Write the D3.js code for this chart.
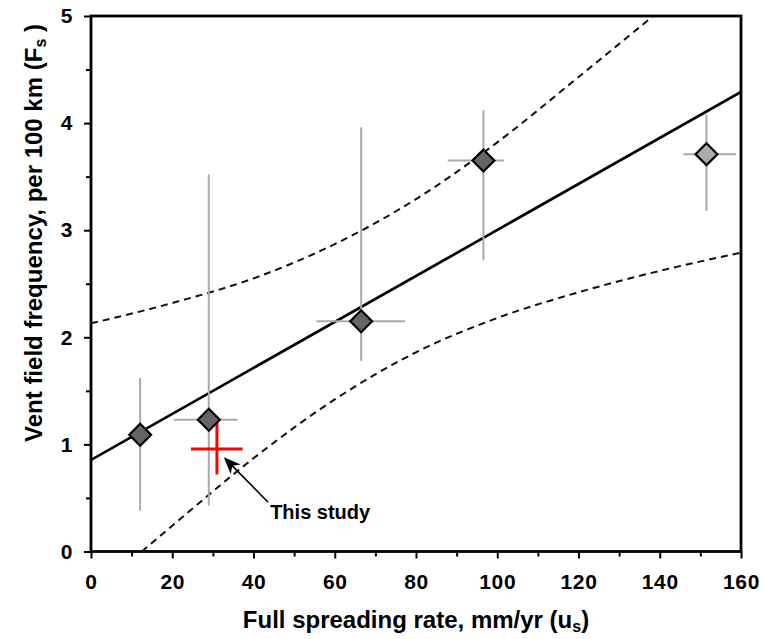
<!DOCTYPE html>
<html><head><meta charset="utf-8">
<script src="https://cdn.jsdelivr.net/npm/d3@7"></script>
<style>
html,body{margin:0;padding:0;background:#fff;}
text{font-family:"Liberation Sans",Arial,Helvetica,sans-serif;font-weight:bold;fill:#000;}
</style></head>
<body><svg id="chart" width="765" height="639"></svg>
<script>
// ---- data ----
const spreadRate = [12.1, 29.0, 66.5, 96.6, 151.5];
const ventFreq   = [1.09, 1.23, 2.15, 3.65, 3.71];
const rateLo     = [null, 20.3, 55.5, 87.8, 145.8];
const rateHi     = [null, 36.1, 77.3, 101.7, 158.8];
const freqLo     = [0.38, 0.43, 1.78, 2.72, 3.18];
const freqHi     = [1.62, 3.52, 3.96, 4.12, 4.08];
const pointGroup = ["A", "A", "A", "A", "B"];

const studyRate = 31.0, studyRateLo = 24.6, studyRateHi = 37.3;
const studyFreq = 0.957, studyFreqLo = 0.72, studyFreqHi = 1.20;

const fitX = [0, 160];
const fitY = [0.855, 4.29];

const bandUpX = [0, 20, 40, 60, 80, 100, 120, 140];
const bandUpY = [2.13, 2.32, 2.55, 2.87, 3.29, 3.82, 4.43, 5.05];
const bandLoX = [12.5, 20, 40, 60, 80, 100, 120, 140, 160];
const bandLoY = [0.0, 0.24, 0.87, 1.42, 1.86, 2.18, 2.42, 2.62, 2.79];

const xTicks = [0, 20, 40, 60, 80, 100, 120, 140, 160];
const xMinor = [10, 30, 50, 70, 90, 110, 130, 150];
const yTicks = [0, 1, 2, 3, 4, 5];
const yMinor = [0.5, 1.5, 2.5, 3.5, 4.5];

const annotText = "This study";
const arrowFrom = [43.6, 0.46];
const arrowTo   = [32.7, 0.88];
const labelPos  = [44.1, 0.30];

// ---- layout ----
const svg = d3.select("#chart");
const x = d3.scaleLinear().domain([0, 160]).range([91, 741]);
const y = d3.scaleLinear().domain([0, 5]).range([551.5, 16]);
const groupFill = {A: "#656565", B: "#ababab"};

svg.append("defs").append("clipPath").attr("id", "clip")
  .append("rect").attr("x", x(0)).attr("y", y(5)).attr("width", x(160) - x(0)).attr("height", y(0) - y(5));

const plot = svg.append("g").attr("clip-path", "url(#clip)");

// error bars
const pts = spreadRate.map((r, i) => ({r, f: ventFreq[i], rl: rateLo[i], rh: rateHi[i], fl: freqLo[i], fh: freqHi[i], g: pointGroup[i]}));
const eb = svg.append("g").attr("stroke", "#aaaaaa").attr("stroke-width", 2);
pts.forEach(p => {
  eb.append("line").attr("x1", x(p.r)).attr("x2", x(p.r)).attr("y1", y(p.fl)).attr("y2", y(p.fh));
  if (p.rl != null) eb.append("line").attr("x1", x(p.rl)).attr("x2", x(p.rh)).attr("y1", y(p.f)).attr("y2", y(p.f));
});

// confidence bands
const band = d3.line().x(d => x(d[0])).y(d => y(d[1])).curve(d3.curveMonotoneX);
plot.append("path").attr("d", band(bandUpX.map((v, i) => [v, bandUpY[i]])))
  .attr("fill", "none").attr("stroke", "#111").attr("stroke-width", 2).attr("stroke-dasharray", "7,5");
plot.append("path").attr("d", band(bandLoX.map((v, i) => [v, bandLoY[i]])))
  .attr("fill", "none").attr("stroke", "#111").attr("stroke-width", 2).attr("stroke-dasharray", "7,5");

// regression line
plot.append("path").attr("d", d3.line().x(d => x(d[0])).y(d => y(d[1]))(fitX.map((v, i) => [v, fitY[i]])))
  .attr("fill", "none").attr("stroke", "#000").attr("stroke-width", 2.7);

// this study cross
const st = svg.append("g").attr("stroke", "#ff0000").attr("stroke-width", 3);
st.append("line").attr("x1", x(studyRateLo)).attr("x2", x(studyRateHi)).attr("y1", y(studyFreq)).attr("y2", y(studyFreq));
st.append("line").attr("x1", x(studyRate)).attr("x2", x(studyRate)).attr("y1", y(studyFreqLo)).attr("y2", y(studyFreqHi));

// diamonds
const diamond = d3.symbol().type(d3.symbolSquare).size(240);
svg.append("g").selectAll("path").data(pts).join("path")
  .attr("d", diamond)
  .attr("transform", d => `translate(${x(d.r)},${y(d.f)}) rotate(45)`)
  .attr("fill", d => groupFill[d.g]).attr("stroke", "#000").attr("stroke-width", 2.2);

// annotation arrow
const ax0 = x(arrowFrom[0]), ay0 = y(arrowFrom[1]), ax1 = x(arrowTo[0]), ay1 = y(arrowTo[1]);
const ang = Math.atan2(ay1 - ay0, ax1 - ax0) * 180 / Math.PI;
const len = Math.hypot(ax1 - ax0, ay1 - ay0);
const ag = svg.append("g").attr("transform", `translate(${ax0},${ay0}) rotate(${ang})`);
ag.append("line").attr("x1", 0).attr("y1", 0).attr("x2", len - 10).attr("y2", 0).attr("stroke", "#000").attr("stroke-width", 1.6);
ag.append("path").attr("d", `M${len},0 L${len - 17},-7 L${len - 12},0 L${len - 17},7 Z`).attr("fill", "#000");
svg.append("text").attr("x", x(labelPos[0])).attr("y", y(labelPos[1])).attr("font-size", 20).text(annotText);

// axes
svg.append("g").attr("transform", `translate(0,${y(0)})`)
  .call(d3.axisBottom(x).tickValues(xTicks).tickSize(7).tickPadding(16).tickFormat(d3.format("d")));
svg.append("g").attr("transform", `translate(0,${y(0)})`)
  .call(d3.axisBottom(x).tickValues(xMinor).tickSize(5).tickFormat(""));
svg.append("g").attr("transform", `translate(${x(0)},0)`)
  .call(d3.axisLeft(y).tickValues(yTicks).tickSize(7).tickPadding(11).tickFormat(d3.format("d")));
svg.append("g").attr("transform", `translate(${x(0)},0)`)
  .call(d3.axisLeft(y).tickValues(yMinor).tickSize(5).tickFormat(""));
svg.selectAll(".tick line").attr("stroke", "#000").attr("stroke-width", 2);
svg.selectAll(".tick text").attr("font-size", 21).attr("font-family", "'Liberation Sans',Arial,sans-serif").attr("font-weight", "bold").attr("letter-spacing", "0.6px");
svg.selectAll(".domain").remove();

// frame
svg.append("rect").attr("x", x(0)).attr("y", y(5)).attr("width", x(160) - x(0)).attr("height", y(0) - y(5))
  .attr("fill", "none").attr("stroke", "#000").attr("stroke-width", 2.8);

// axis titles
const xt = svg.append("text").attr("x", (x(0) + x(160)) / 2).attr("y", 628).attr("text-anchor", "middle").attr("font-size", 24);
xt.append("tspan").text("Full spreading rate, mm/yr (u");
xt.append("tspan").attr("font-size", 16).attr("dy", 4).text("s");
xt.append("tspan").attr("dy", -4).text(")");

const yt = svg.append("text").attr("transform", `translate(42,233) rotate(-90)`).attr("text-anchor", "middle").attr("font-size", 24);
yt.append("tspan").text("Vent field frequency, per 100 km (F");
yt.append("tspan").attr("font-size", 16).attr("dy", 4).text("s");
yt.append("tspan").attr("dy", -4).text(" )");
</script></body></html>
